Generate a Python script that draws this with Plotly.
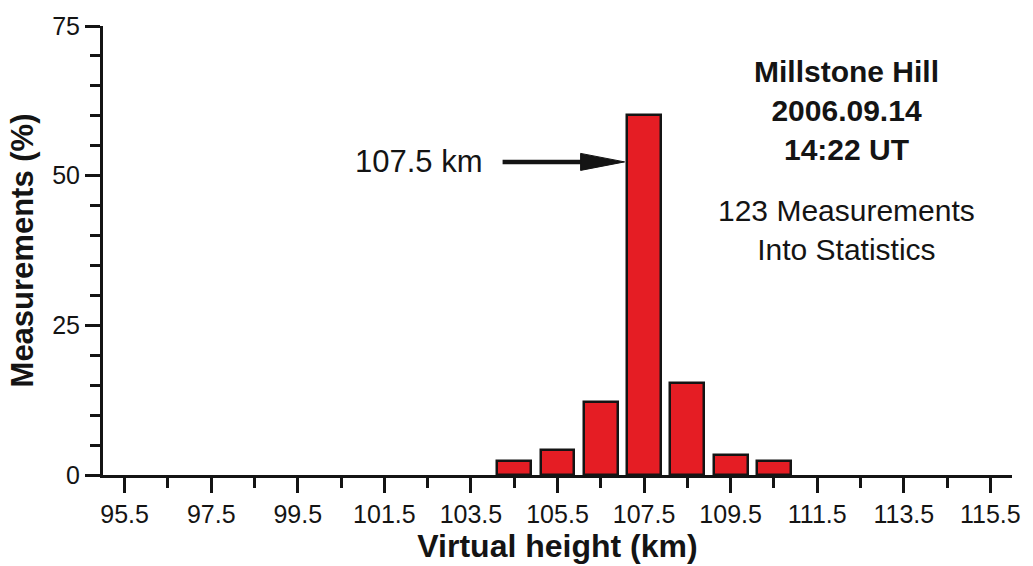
import plotly.graph_objects as go

# Histogram of virtual heights (bin centres, km) and share of measurements (%)
heights_km = [104.5, 105.5, 106.5, 107.5, 108.5, 109.5, 110.5]
share_pct = [2.4, 4.1, 12.2, 60.2, 15.4, 3.3, 2.4]

x_ticks = [95.5, 97.5, 99.5, 101.5, 103.5, 105.5, 107.5, 109.5, 111.5, 113.5, 115.5]
y_ticks = [0, 25, 50, 75]

station_text = "Millstone Hill<br>2006.09.14<br>14:22 UT"
stats_text = "123 Measurements<br>Into Statistics"
peak_label = "107.5 km"

FONT = "Liberation Sans, Arial, sans-serif"
INK = "#141414"
BAR_RED = "#e51d24"
BAR_W = 0.78

peak_i = max(range(len(share_pct)), key=lambda i: share_pct[i])
peak_x = heights_km[peak_i]
arrow_tip_x = peak_x - BAR_W / 2 - 0.06
arrow_y = 52.3

fig = go.Figure(
    go.Bar(
        x=heights_km,
        y=share_pct,
        width=BAR_W,
        marker=dict(color=BAR_RED, line=dict(color=INK, width=2.5)),
        hoverinfo="x+y",
    )
)

axis_common = dict(
    showline=True,
    linecolor=INK,
    linewidth=3,
    showgrid=False,
    zeroline=False,
    ticks="outside",
    tickcolor=INK,
    tickwidth=3,
    ticklen=15,
    tickfont=dict(family=FONT, size=25, color=INK),
)

fig.update_xaxes(
    **axis_common,
    range=[95, 116],
    tickvals=x_ticks,
    ticktext=[f"{v:.1f}" for v in x_ticks],
    minor=dict(dtick=1, tick0=95.5, ticks="outside", ticklen=10, tickwidth=3, tickcolor=INK),
    title=dict(text="<b>Virtual height (km)</b>", font=dict(family=FONT, size=32, color=INK), standoff=4),
)
fig.update_yaxes(
    **axis_common,
    range=[0, 75],
    tickvals=y_ticks,
    minor=dict(dtick=5, tick0=0, ticks="outside", ticklen=10, tickwidth=3, tickcolor=INK),
    title=dict(text="<b>Measurements (%)</b>", font=dict(family=FONT, size=31, color=INK), standoff=10),
)

# Arrow pointing at the peak bin, drawn in pixels relative to its tip
fig.add_shape(
    type="path",
    xref="x", yref="y",
    xsizemode="pixel", ysizemode="pixel",
    xanchor=arrow_tip_x, yanchor=arrow_y,
    path="M-122,0 L-38,0",
    line=dict(color=INK, width=4.5),
)
fig.add_shape(
    type="path",
    xref="x", yref="y",
    xsizemode="pixel", ysizemode="pixel",
    xanchor=arrow_tip_x, yanchor=arrow_y,
    path="M0,0 L-44,8.5 L-44,-8.5 Z",
    fillcolor=INK,
    line=dict(color=INK, width=1),
)

fig.add_annotation(
    x=arrow_tip_x, y=arrow_y, xref="x", yref="y",
    xshift=-140, xanchor="right", yanchor="middle",
    text=peak_label, showarrow=False,
    font=dict(family=FONT, size=31, color=INK),
)
fig.add_annotation(
    x=0.818, y=0.812, xref="paper", yref="paper",
    xanchor="center", yanchor="middle",
    text=f"<b>{station_text}</b>", showarrow=False, align="center",
    font=dict(family=FONT, size=30, color=INK),
)
fig.add_annotation(
    x=0.818, y=0.545, xref="paper", yref="paper",
    xanchor="center", yanchor="middle",
    text=stats_text, showarrow=False, align="center",
    font=dict(family=FONT, size=30, color=INK),
)

fig.update_layout(
    width=1033,
    height=566,
    margin=dict(l=103, r=14, t=17, b=87),
    paper_bgcolor="white",
    plot_bgcolor="white",
    showlegend=False,
    bargap=0,
)

fig.write_html("out.html")
